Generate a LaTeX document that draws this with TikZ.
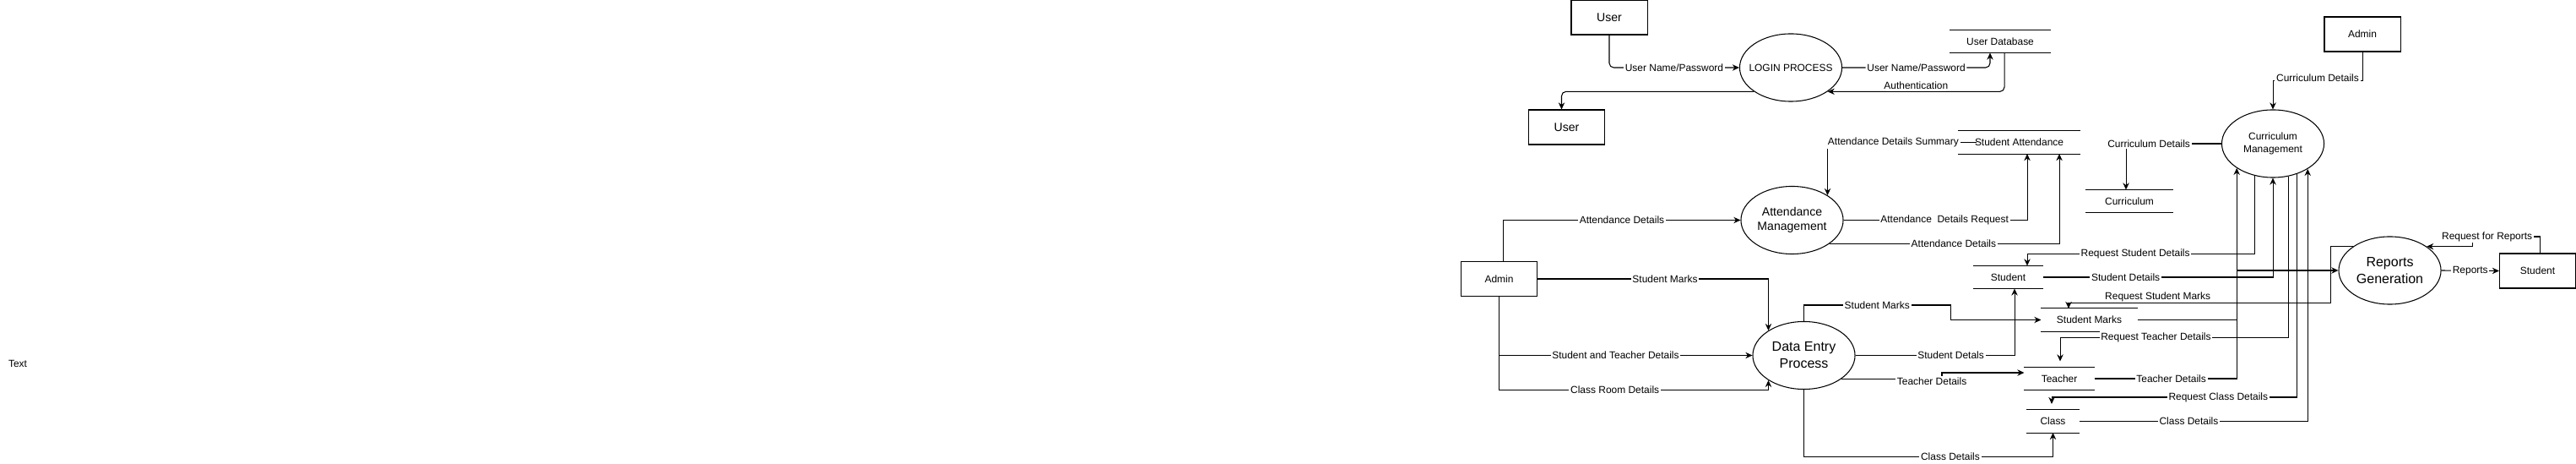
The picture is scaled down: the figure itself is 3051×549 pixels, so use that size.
\documentclass[tikz,border=0pt]{standalone}
\usepackage{fontspec}
\setmainfont{Liberation Sans}
\usepackage{tikz}
\usetikzlibrary{shapes.geometric,arrows.meta}
\newcommand{\lblsize}{\fontsize{3.4}{4.3}\selectfont}
\newcommand{\midsize}{\fontsize{4}{5}\selectfont}
\newcommand{\bigsize}{\fontsize{4.55}{5.7}\selectfont}

\begin{document}
\begin{tikzpicture}[x=0.01cm,y=-0.01cm,line width=0.3pt,
	>={Stealth[length=2.3pt,width=2.1pt]},
	ent/.style={draw,minimum width=0.9cm,minimum height=0.41cm,inner sep=0pt,font=\lblsize},
	proc/.style={draw,ellipse,minimum width=1.21cm,minimum height=0.8cm,inner sep=0pt,align=center,font=\lblsize},
	store/.style={minimum height=0.26cm,inner sep=0pt,font=\lblsize},
	lbl/.style={fill=white,inner sep=0.5pt,font=\lblsize}]
	\useasboundingbox (0,0) rectangle (3051,549);
	\node[ent,font=\midsize] (1) at (1906,20.5) {User};
	\node[proc,inner xsep=-0.1cm] (2) at (2121,80) {LOGIN PROCESS};
	\node[store,minimum width=1.18cm] (3) at (2369,49) {User Database};
	\node[ent,font=\midsize] (4) at (1855.5,150.5) {User};
	\node[ent] (5) at (2798,40.5) {Admin};
	\node[proc] (6) at (2692,170) {Curriculum\\Management};
	\node[store,minimum width=1.43cm] (7) at (2391.5,168.5) {Student Attendance};
	\node[store,minimum width=1.03cm] (8) at (2522,238) {Curriculum};
	\node[proc,font=\midsize] (9) at (2122.5,260.5) {Attendance\\Management};
	\node[ent] (10) at (1775.5,330) {Admin};
	\node[proc,font=\bigsize] (11) at (2136.5,420.5) {Data Entry\\Process};
	\node[store,minimum width=0.81cm] (12) at (2378.5,328) {Student};
	\node[store,minimum width=1.13cm] (13) at (2474.5,378.5) {Student Marks};
	\node[store,minimum width=0.82cm] (14) at (2439,448) {Teacher};
	\node[store,minimum width=0.61cm] (15) at (2431.5,498.5) {Class};
	\node[proc,font=\bigsize] (16) at (2830.5,320) {Reports\\Generation};
	\node[ent] (17) at (3005.5,320.5) {Student};
	\node[font=\lblsize] (18) at (21,430) {Text};
	\foreach \s in {3,7,8,12,13,14,15}
		\draw (\s.north west) -- (\s.north east) (\s.south west) -- (\s.south east);
	\draw[->,rounded corners=1.5pt] (1.south) |- node[lbl,pos=0.75]{User Name/Password} (2.west);
	\draw[->,rounded corners=1.5pt] (2.east) -| node[lbl,pos=0.25]{User Name/Password} ([xshift=-0.12cm]3.south);
	\draw[->,rounded corners=1.5pt] ([xshift=0.05cm]3.south) |- node[lbl,pos=0.75,yshift=0.07cm]{Authentication} (2.-33);
	\draw[->,rounded corners=1.5pt] (2.213) -| ([xshift=-0.06cm]4.north);
	\draw[->] (5.south) -- ++(0,34) -| node[lbl,pos=0.25,yshift=0.03cm]{Curriculum Details} (6.north);
	\draw[->] ([xshift=0.22cm]7.west) -| node[lbl,pos=0.28]{Attendance Details Summary} (9.35);
	\draw[->] ([xshift=0.05cm]10.north) |- node[lbl,pos=0.75]{Attendance Details} (9.west);
	\draw[->] (9.east) -| node[lbl,pos=0.275]{Attendance\ \ Details Request} ([xshift=0.095cm]7.south);
	\draw[->] (9.-32) -| node[lbl,pos=0.27]{Attendance Details} ([xshift=0.475cm]7.south);
	\draw[->] (10.east) -| node[lbl,pos=0.276]{Student Marks} (11.145);
	\draw[->] (10.south) |- node[lbl,pos=0.73]{Student and Teacher Details} (11.west);
	\draw[->] (10.south) -- ++(0,110) -| node[lbl,pos=0.215]{Class Room Details} (11.-145);
	\draw[->] (11.north) |- node[lbl,pos=0.75]{Student Marks} (2310,361) |- (13.west);
	\draw[->] (11.east) -| node[lbl,pos=0.3]{Student Detals} ([xshift=0.075cm]12.south);
	\draw[->] (11.-32) -- node[lbl,pos=0.9,yshift=-0.03cm]{Teacher Details} ++(119,0) |- ([yshift=0.07cm]14.west);
	\draw[->] (11.south) -- ++(0,79) -| node[lbl,pos=0.294]{Class Details} (15.south);
	\draw[->] (6.west) -| node[lbl,pos=0.38]{Curriculum Details} ([xshift=-0.04cm]8.north);
	\draw[->] (6.-120) -- ++(0,93) -| node[lbl,pos=0.262]{Request Student Details} ([xshift=0.225cm]12.north);
	\draw[->] (12.east) -| node[lbl,pos=0.18]{Student Details} (6.south);
	\draw[->] (16.147) -- ++(-26,0) |- node[lbl,pos=0.83,yshift=0.08cm]{Request Student Marks} ([xshift=-0.245cm,yshift=0.06cm]13.north) -- ([xshift=-0.245cm]13.north);
	\draw[->] (13.east) -- ++(118,0) |- (16.west);
	\draw[->] (6.-65) -- ++(0,191) -| node[lbl,pos=0.29]{Request Teacher Details} ([xshift=0.01cm,yshift=0.07cm]14.north);
	\draw[->] (14.east) -| node[lbl,pos=0.27]{Teacher Details} (6.-146);
	\draw[->] (6.-52) -- ++(0,264) -| node[lbl,pos=0.16]{Request Class Details} ([xshift=-0.015cm,yshift=0.07cm]15.north);
	\draw[->] (15.east) -| node[lbl,pos=0.24]{Class Details} (6.-36);
	\draw[->] (16.east) -- node[lbl]{Reports} (17.west);
	\draw[->] ([xshift=0.025cm]17.north) |- node[lbl,pos=0.89]{Request for Reports} (2928,280) |- (16.33);
\end{tikzpicture}
\end{document}
